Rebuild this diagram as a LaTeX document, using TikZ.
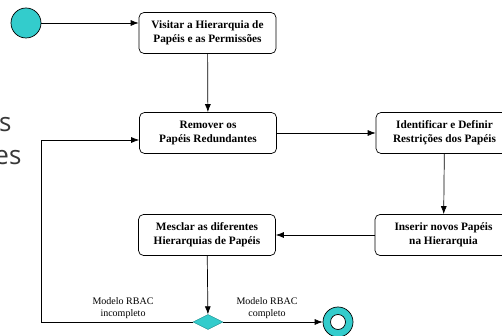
\documentclass[tikz,border=0pt]{standalone}
\usepackage{fontspec}
\setmainfont{Liberation Serif}
\newfontfamily\slidefont{Open Sans}
\usepackage{tikz}
\usetikzlibrary{shapes, arrows.meta}
\definecolor{turq}{HTML}{33CCCC}
\tikzstyle{block} = [rectangle, draw, fill=white, line width=0.7pt,
align=center, rounded corners=5pt, minimum height=41pt, minimum width=137pt, inner sep=2pt, font=\fontsize{11.3}{14}\selectfont\bfseries]
\tikzstyle{start} = [circle, draw, fill=turq, line width=0.7pt, minimum size=30pt, inner sep=0pt]
\tikzstyle{choice} = [diamond, draw=turq!70!black, fill=turq, minimum width=30pt, minimum height=15pt, inner sep=0pt, aspect=2]
\tikzstyle{guard} = [align=center, font=\fontsize{10}{12.5}\selectfont]
\tikzstyle{line} = [draw, line width=0.7pt, -{Latex[length=8pt, width=6pt]}]

\begin{document}
\begin{tikzpicture}[x=1pt, y=1pt]
	\useasboundingbox (0,0) rectangle (502,336);
	\clip (0,0) rectangle (502,336);
	
	% Place nodes
	\node [start]	(Inicio)		at (26,313)		{};
	\node [block]	(Visitar)		at (207.5,303)	{Visitar a Hierarquia de\\Papéis e as Permissões};
	\node [block]	(Remover)		at (208,203)	{Remover os\\Papéis Redundantes};
	\node [block]	(Identificar)	at (444.5,203)	{Identificar e Definir\\Restrições dos Papéis};
	\node [block]	(Inserir)		at (443.5,101)	{Inserir novos Papéis\\na Hierarquia};
	\node [block]	(Mesclar)		at (207,101)	{Mesclar as diferentes\\Hierarquias de Papéis};
	\node [choice]	(Decisao)		at (208,14)		{};
	\node [start]	(Fim)			at (338,14)		{};
	\node [circle, draw, fill=white, line width=0.7pt, minimum size=15pt] at (Fim) {};
	\coordinate (Volta) at (41,196);
	\node [guard]	(Incompleto)	at (123,28)		{Modelo RBAC\\incompleto};
	\node [guard]	(Completo)		at (267,28)		{Modelo RBAC\\completo};
	\node [anchor=base east, text=black!78, font=\fontsize{26}{30}\slidefont] at (15,204) {s};
	\node [anchor=base east, text=black!78, font=\fontsize{26}{30}\slidefont] at (25,171) {es};
	
	%Draw edges
	\path [line] (Inicio)		--						(Visitar.west |- Inicio);
	\path [line] (Visitar)		--						(Remover);
	\path [line] (Remover)		--						(Identificar);
	\path [line] (Identificar)	--						(Inserir);
	\path [line] (Inserir)		--						(Mesclar);
	\path [line] (Mesclar)		--						(Decisao);
	\path [line] (Decisao)		--						(Fim);
	\path [line] (Decisao)		-| (Volta)	--			(Remover.west |- Volta);
	
\end{tikzpicture}
\end{document}
